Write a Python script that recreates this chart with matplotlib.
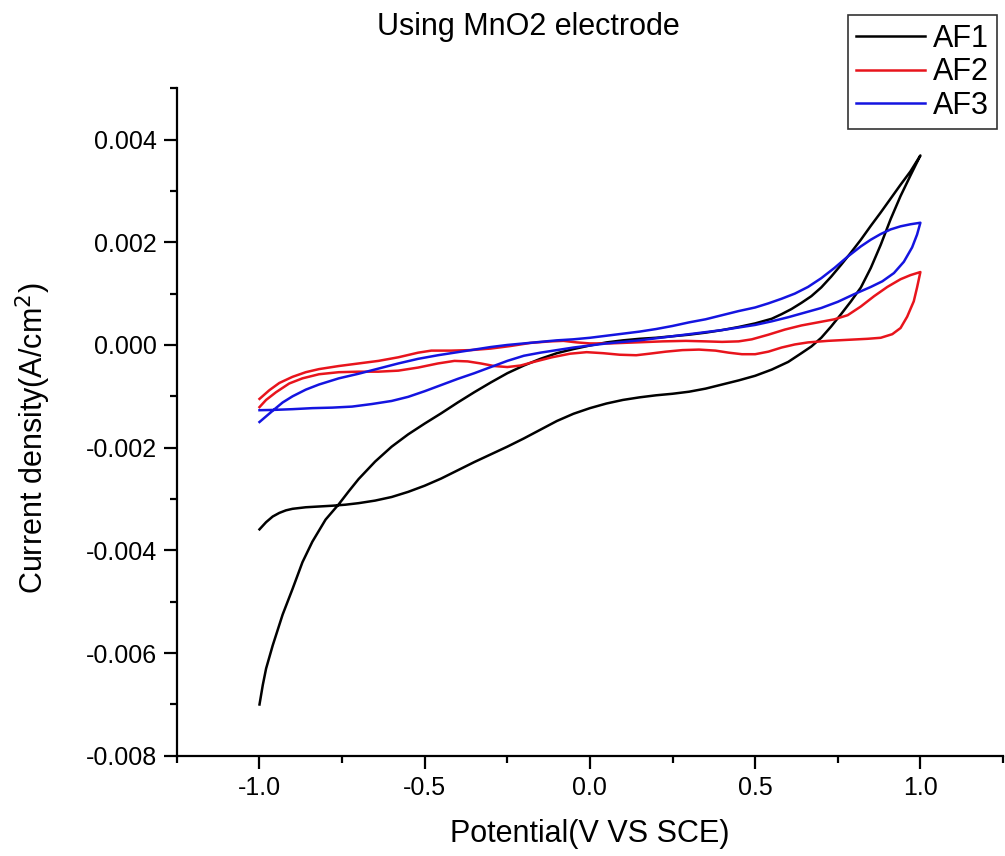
import numpy as np
import matplotlib.pyplot as plt
from matplotlib.ticker import MultipleLocator, FormatStrFormatter

plt.rcParams['font.family'] = ['Liberation Sans', 'DejaVu Sans']

# potential (V) and current density (in 1e-3 A/cm2), forward sweep then reverse
af1_x = [-1.00, -0.98, -0.96, -0.94, -0.92, -0.90, -0.86, -0.82, -0.78, -0.74,
         -0.70, -0.65, -0.60, -0.55, -0.50, -0.45, -0.40, -0.35, -0.30, -0.25,
         -0.20, -0.15, -0.10, -0.05, 0.00, 0.05, 0.10, 0.15, 0.20, 0.25,
         0.30, 0.35, 0.40, 0.45, 0.50, 0.55, 0.60, 0.64, 0.67, 0.70,
         0.73, 0.76, 0.79, 0.82, 0.85, 0.88, 0.91, 0.94, 0.97, 1.00,
         0.97, 0.94, 0.91, 0.88, 0.85, 0.82, 0.79, 0.76, 0.73, 0.70,
         0.67, 0.64, 0.61, 0.58, 0.55, 0.50, 0.45, 0.40, 0.35, 0.30,
         0.25, 0.20, 0.15, 0.10, 0.05, 0.00, -0.05, -0.10, -0.15, -0.20,
         -0.25, -0.30, -0.35, -0.40, -0.45, -0.50, -0.55, -0.60, -0.65, -0.70,
         -0.73, -0.76, -0.80, -0.84, -0.87, -0.90, -0.93, -0.96, -0.98, -0.99,
         -1.00]
af1_y = [-3.59, -3.45, -3.34, -3.27, -3.22, -3.19, -3.16, -3.145, -3.13, -3.11,
         -3.08, -3.03, -2.96, -2.86, -2.74, -2.60, -2.44, -2.28, -2.13, -1.98,
         -1.82, -1.65, -1.48, -1.34, -1.23, -1.14, -1.07, -1.02, -0.98, -0.95,
         -0.91, -0.85, -0.77, -0.69, -0.60, -0.48, -0.33, -0.16, -0.03, 0.14,
         0.36, 0.60, 0.85, 1.12, 1.50, 1.95, 2.45, 2.90, 3.30, 3.69,
         3.38, 3.12, 2.85, 2.58, 2.32, 2.05, 1.80, 1.56, 1.33, 1.12,
         0.95, 0.82, 0.70, 0.60, 0.51, 0.42, 0.35, 0.29, 0.24, 0.20,
         0.17, 0.14, 0.12, 0.09, 0.05, -0.01, -0.08, -0.16, -0.27, -0.40,
         -0.55, -0.73, -0.92, -1.12, -1.33, -1.53, -1.74, -1.98, -2.27, -2.61,
         -2.85, -3.10, -3.40, -3.83, -4.23, -4.75, -5.25, -5.85, -6.30, -6.62,
         -7.00]

af2_x = [-1.00, -0.97, -0.94, -0.90, -0.86, -0.82, -0.76, -0.70, -0.64, -0.58,
         -0.52, -0.48, -0.42, -0.36, -0.30, -0.24, -0.18, -0.12, -0.08, -0.04,
         0.00, 0.06, 0.14, 0.22, 0.29, 0.35, 0.40, 0.45, 0.49, 0.54,
         0.59, 0.64, 0.69, 0.74, 0.78, 0.82, 0.86, 0.90, 0.94, 0.97, 1.00,
         0.99, 0.98, 0.96, 0.94, 0.915, 0.88, 0.84, 0.78, 0.72, 0.66,
         0.62, 0.58, 0.54, 0.50, 0.46, 0.42, 0.38, 0.33, 0.28, 0.23,
         0.18, 0.14, 0.09, 0.04, -0.01, -0.06, -0.115, -0.17, -0.21, -0.25,
         -0.29, -0.33, -0.37, -0.41, -0.46, -0.52, -0.58, -0.64, -0.70, -0.76,
         -0.82, -0.87, -0.91, -0.95, -0.98, -1.00]
af2_y = [-1.05, -0.88, -0.74, -0.62, -0.53, -0.47, -0.41, -0.36, -0.31, -0.24,
         -0.15, -0.11, -0.11, -0.10, -0.07, -0.02, 0.04, 0.07, 0.08, 0.05,
         0.03, 0.03, 0.05, 0.07, 0.08, 0.07, 0.06, 0.07, 0.11, 0.20,
         0.30, 0.38, 0.44, 0.50, 0.58, 0.75, 0.95, 1.13, 1.28, 1.36, 1.42,
         1.12, 0.85, 0.55, 0.33, 0.21, 0.14, 0.12, 0.10, 0.08, 0.05,
         0.01, -0.05, -0.13, -0.18, -0.18, -0.15, -0.11, -0.09, -0.10, -0.13,
         -0.17, -0.20, -0.19, -0.16, -0.14, -0.17, -0.24, -0.33, -0.40, -0.43,
         -0.41, -0.36, -0.32, -0.31, -0.36, -0.44, -0.50, -0.52, -0.52, -0.53,
         -0.57, -0.65, -0.75, -0.92, -1.07, -1.21]

af3_x = [-1.00, -0.96, -0.90, -0.84, -0.78, -0.72, -0.66, -0.60, -0.55, -0.50,
         -0.45, -0.40, -0.35, -0.30, -0.25, -0.20, -0.15, -0.10, -0.05, 0.00,
         0.05, 0.10, 0.15, 0.20, 0.25, 0.30, 0.35, 0.40, 0.45, 0.50,
         0.55, 0.60, 0.65, 0.70, 0.75, 0.80, 0.85, 0.885, 0.92, 0.95,
         0.975, 0.99, 1.00,
         0.97, 0.94, 0.91, 0.88, 0.85, 0.82, 0.78, 0.74, 0.70, 0.66,
         0.62, 0.58, 0.54, 0.50, 0.45, 0.40, 0.35, 0.30, 0.25, 0.20,
         0.15, 0.10, 0.05, 0.00, -0.05, -0.10, -0.15, -0.20, -0.25, -0.30,
         -0.35, -0.40, -0.46, -0.52, -0.58, -0.64, -0.70, -0.76, -0.82, -0.86,
         -0.90, -0.93, -0.96, -0.98, -1.00]
af3_y = [-1.27, -1.265, -1.25, -1.23, -1.22, -1.20, -1.15, -1.09, -1.01, -0.90,
         -0.78, -0.66, -0.55, -0.43, -0.31, -0.21, -0.15, -0.10, -0.05, -0.01,
         0.03, 0.06, 0.09, 0.13, 0.17, 0.21, 0.25, 0.29, 0.34, 0.39,
         0.46, 0.54, 0.63, 0.72, 0.84, 0.99, 1.13, 1.24, 1.40, 1.62,
         1.90, 2.15, 2.38,
         2.35, 2.31, 2.25, 2.16, 2.05, 1.92, 1.72, 1.50, 1.30, 1.13,
         1.00, 0.90, 0.81, 0.73, 0.66, 0.58, 0.50, 0.44, 0.37, 0.31,
         0.26, 0.22, 0.18, 0.14, 0.11, 0.09, 0.06, 0.03, 0.00, -0.04,
         -0.09, -0.14, -0.20, -0.27, -0.36, -0.46, -0.56, -0.65, -0.77, -0.87,
         -1.00, -1.12, -1.28, -1.39, -1.50]

series = [(af1_x, af1_y, 'black', 'AF1'),
          (af2_x, af2_y, '#e8141c', 'AF2'),
          (af3_x, af3_y, '#1414e0', 'AF3')]

fig = plt.figure(figsize=(10.05, 8.56), dpi=100)
ax = fig.add_axes([0.176, 0.117, 0.822, 0.780])

for x, y, c, lab in series:
    ax.plot(x, np.array(y) * 1e-3, color=c, lw=1.8, label=lab)

ax.set_xlim(-1.25, 1.25)
ax.set_ylim(-0.008, 0.005)
ax.xaxis.set_major_locator(MultipleLocator(0.5))
ax.xaxis.set_minor_locator(MultipleLocator(0.25))
ax.yaxis.set_major_locator(MultipleLocator(0.002))
ax.yaxis.set_minor_locator(MultipleLocator(0.001))
ax.xaxis.set_major_formatter(FormatStrFormatter('%.1f'))
ax.yaxis.set_major_formatter(FormatStrFormatter('%.3f'))

for s in ['top', 'right']:
    ax.spines[s].set_visible(False)
for s in ['left', 'bottom']:
    ax.spines[s].set_linewidth(1.6)

ax.tick_params(which='major', direction='out', length=9.5, width=1.6, labelsize=18, pad=5)
ax.tick_params(which='minor', direction='out', length=5, width=1.6)

ax.set_xlabel('Potential(V VS SCE)', fontsize=22, labelpad=14)
fig.text(33 / 1005, 1 - 438 / 856, 'Current density(A/cm$^2$)', fontsize=22,
         rotation=90, ha='center', va='center')
fig.text(528 / 1005, 1 - 27 / 856, 'Using MnO2 electrode', fontsize=22,
         ha='center', va='center')

leg = fig.legend(loc='upper right', bbox_to_anchor=(997 / 1005, 1 - 15 / 856),
                 fontsize=22, frameon=True, fancybox=False, borderaxespad=0,
                 handlelength=2.25, handletextpad=0.25, labelspacing=0.12,
                 borderpad=0.28)
leg.get_frame().set_edgecolor('black')
leg.get_frame().set_linewidth(1.2)

fig.savefig('out.png', dpi=100)
